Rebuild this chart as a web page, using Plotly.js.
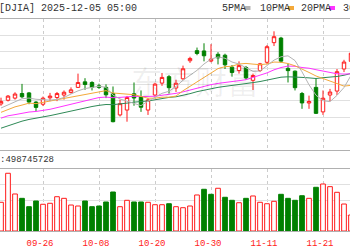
<!DOCTYPE html>
<html><head><meta charset="utf-8">
<script src="https://cdn.plot.ly/plotly-3.0.1.min.js"></script>
<style>html,body{margin:0;padding:0;background:#fff;overflow:hidden}#chart{width:350px;height:250px}</style>
</head><body><div id="chart"></div>
<script>
const dates = ['09-18','09-19','09-22','09-23','09-24','09-25','09-26','09-29','09-30',
  '10-01','10-02','10-03','10-06','10-07','10-08','10-09','10-10','10-13','10-14','10-15','10-16','10-17',
  '10-20','10-21','10-22','10-23','10-24','10-27','10-28','10-29','10-30','10-31',
  '11-03','11-04','11-05','11-06','11-07','11-10','11-11','11-12','11-13','11-14','11-17','11-18','11-19',
  '11-20','11-21','11-24','11-25','11-26','11-28'];
const openP = [46060,46180,46250,46400,46420,46120,46050,46260,46270,
  46350,46430,46600,46780,46760,46650,46600,46400,45700,45860,46390,46300,45860,
  46350,46740,46950,46580,46880,47470,47800,47790,47460,47680,
  47650,47260,47150,47250,46830,47150,47420,48060,48210,47220,47130,46400,46090,
  46600,45800,46350,46480,47200,47450];
const highP = [46264,46350,46440,46714,46450,46150,46300,46420,46450,
  46500,46600,47049,46900,46800,46720,46700,46630,46200,46320,46760,46500,46250,
  46750,47070,47000,46850,47310,47600,47900,48040,48010,47750,
  47700,47330,47450,47300,47050,47400,47980,48431,48250,47370,47150,46450,46330,
  46900,46500,46550,47200,47500,47750];
const lowP = [46000,46140,46200,46250,46050,45830,45990,46150,46150,
  46200,46400,46580,46520,46500,46550,46250,45460,45650,45480,46000,45800,45700,
  46300,46650,46400,46450,46850,47400,47650,47450,47420,47350,
  47200,46950,47050,46850,46515,47100,47350,47950,47400,46760,46500,45900,45900,
  45730,45700,46150,46350,47100,47400];
const closeP = [46142,46315,46382,46293,46121,45947,46247,46316,46398,
  46441,46520,46758,46695,46603,46602,46358,45480,46068,46270,46253,45952,46191,
  46707,46925,46590,46735,47207,47545,47706,47632,47522,47563,
  47337,47085,47311,46912,46987,47369,47928,48255,47457,47147,46590,46092,46139,
  45752,46245,46448,47112,47427,47716];
const prevClose = 46018;
const volume = [463e6,931e6,597e6,527e6,392e6,484e6,431e6,447e6,553e6,
  527e6,419e6,403e6,484e6,392e6,403e6,468e6,629e6,392e6,495e6,468e6,468e6,463e6,
  424e6,424e6,440e6,392e6,376e6,403e6,581e6,673e6,592e6,689e6,
  544e6,495e6,456e6,527e6,565e6,463e6,440e6,479e6,592e6,527e6,495e6,569e6,527e6,
  705e6,758e6,715e6,624e6,435e6,258e6];
const ma5 = [45927,46023,46123,46230,46251,46212,46198,46185,46206,46270,46384,46487,46562,46603,46636,46603,46348,46222,46156,46086,46005,46147,46275,46406,46473,46630,46833,47000,47157,47365,47522,47594,47552,47428,47364,47242,47126,47133,47301,47490,47599,47631,47475,47108,46685,46344,46164,46135,46339,46597,46990];
const ma10 = [45786,45878,45964,46022,46086,46069,46111,46154,46218,46260,46298,46342,46374,46405,46453,46494,46417,46392,46380,46361,46304,46247,46248,46281,46279,46317,46490,46638,46781,46919,47076,47213,47276,47292,47364,47382,47360,47342,47365,47427,47420,47379,47304,47205,47088,46972,46897,46805,46724,46641,46667];
const ma20 = [45596,45672,45710,45760,45795,45814,45845,45884,45939,45997,46042,46110,46169,46214,46269,46282,46264,46273,46299,46310,46301,46295,46311,46343,46366,46405,46453,46515,46580,46640,46690,46730,46762,46786,46822,46850,46925,46990,47073,47173,47248,47296,47290,47249,47226,47177,47129,47074,47044,47034,47044];
const ma30 = [45268,45346,45420,45497,45553,45587,45631,45677,45726,45777,45830,45896,45931,45975,46014,46041,46036,46053,46086,46118,46129,46156,46195,46236,46273,46293,46339,46395,46460,46513,46559,46601,46633,46659,46699,46731,46756,46791,46842,46902,46933,46946,46943,46926,46910,46890,46916,46928,46956,46996,47054];
const tickLabels = ['09-26','10-08','10-20','10-30','11-11','11-21'];
const titleText = '[DJIA] 2025-12-05 05:00';
const volText = ':498745728';
const maNames = ['5PMA','10PMA','20PMA','30PMA'];
const watermark = '东方财富';

const W = 350, H = 250;
const px = v => v / W, py = v => 1 - v / H;
const RED = '#ff1a1a', GREEN = '#008000';
const maColors = ['#b4b4b4', '#f4a93a', '#ff33ff', '#2f8a57'];

const volFill = [], volLine = [];
closeP.forEach((c, i) => {
  const up = c >= (i ? closeP[i - 1] : prevClose);
  volFill.push(up ? '#ffffff' : GREEN);
  volLine.push(up ? RED : GREEN);
});

const traces = [
  {type: 'candlestick', x: dates, open: openP, high: highP, low: lowP, close: closeP,
   xaxis: 'x', yaxis: 'y', whiskerwidth: 0, hoverinfo: 'skip',
   increasing: {line: {color: RED, width: 1}, fillcolor: '#ffffff'},
   decreasing: {line: {color: GREEN, width: 1}, fillcolor: GREEN}},
  {type: 'bar', x: dates, y: volume, xaxis: 'x', yaxis: 'y2', hoverinfo: 'skip',
   marker: {color: volFill, line: {color: volLine, width: 1}}}
];
[ma30, ma20, ma10, ma5].forEach((arr, k) => {
  traces.push({type: 'scatter', mode: 'lines', x: dates, y: arr, xaxis: 'x', yaxis: 'y',
    hoverinfo: 'skip', line: {color: maColors[3 - k], width: 1}});
});

const mono = 'Liberation Mono, DejaVu Sans Mono, monospace';
const annotations = [
  {text: watermark, xref: 'paper', yref: 'paper', x: px(195), y: py(80), xanchor: 'center', yanchor: 'middle',
   showarrow: false, font: {family: 'Noto Sans CJK SC', size: 32, color: 'rgba(0,0,0,0.06)'}},
  {text: titleText, xref: 'paper', yref: 'paper', x: px(-3), y: py(8), xanchor: 'left', yanchor: 'middle',
   showarrow: false, font: {family: mono, size: 10, color: '#333'}},
  {text: volText, xref: 'paper', yref: 'paper', x: px(-2), y: py(159.5), xanchor: 'left', yanchor: 'middle',
   showarrow: false, font: {family: mono, size: 9, color: '#333'}}
];
const legX = [220, 257.5, 298.5, 340.5];
const shapes = [];
maNames.forEach((n, k) => {
  annotations.push({text: n, xref: 'paper', yref: 'paper', x: px(legX[k]), y: py(8), xanchor: 'left', yanchor: 'middle',
    showarrow: false, font: {family: mono, size: 10, color: '#333'}});
  const mx = legX[k] + n.length * 6 + 0.5;
  shapes.push({type: 'rect', xref: 'paper', yref: 'paper', x0: px(mx), x1: px(mx + 6), y0: py(10), y1: py(6),
    fillcolor: maColors[k], line: {width: 0}});
});

const kLo = 44555.6, kHi = 48832.8;
const layout = {
  width: W, height: H, margin: {l: 0, r: 0, t: 0, b: 0, pad: 0},
  paper_bgcolor: '#ffffff', plot_bgcolor: '#ffffff', showlegend: false,
  bargap: 0.33, boxgap: 0.3,
  xaxis: {type: 'category', range: [-0.143, 49.857], anchor: 'y2', tickvals: tickLabels, ticktext: tickLabels,
    showgrid: true, gridcolor: '#cccccc', griddash: '3px,3px', gridwidth: 1,
    showline: true, mirror: 'all', linecolor: '#b0b0b0', linewidth: 1, zeroline: false,
    ticks: 'outside', ticklen: 3, tickcolor: 'rgba(0,0,0,0)', ticklabelshift: -3,
    tickfont: {family: mono, size: 9, color: '#ff2020'}, rangeslider: {visible: false}, fixedrange: true},
  yaxis: {domain: [py(150), py(19)], range: [kLo, kHi], tick0: kLo, dtick: (kHi - kLo) / 8,
    showticklabels: false, ticks: '', gridcolor: '#e0e0e0', zeroline: false, fixedrange: true},
  yaxis2: {domain: [py(231), py(169)], range: [0, 1e9], tick0: 0, dtick: 2.5e8,
    showticklabels: false, ticks: '', gridcolor: '#e0e0e0', zeroline: false, fixedrange: true},
  annotations: annotations, shapes: shapes
};
Plotly.newPlot('chart', traces, layout, {staticPlot: true, displayModeBar: false});
</script></body></html>
